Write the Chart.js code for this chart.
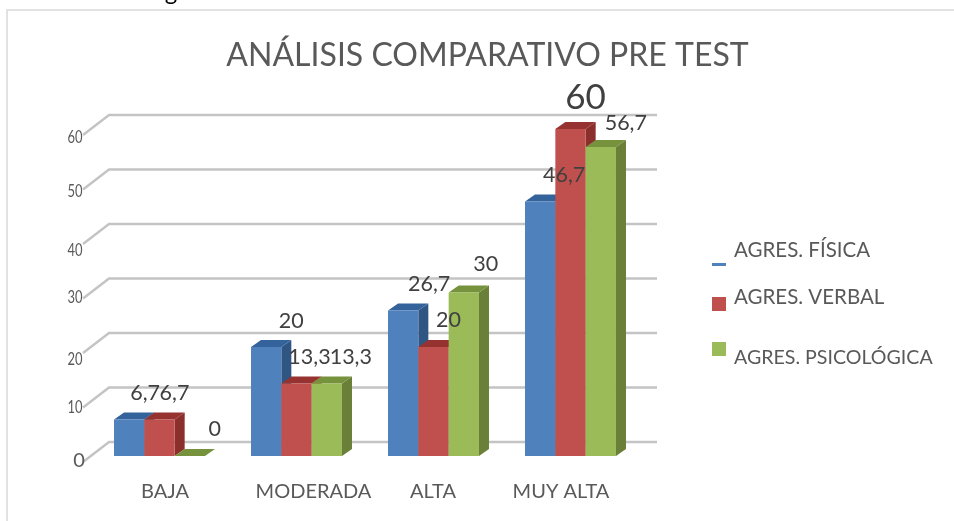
<!DOCTYPE html>
<html>
<head>
<meta charset="utf-8">
<style>
  html, body { margin: 0; padding: 0; background: #fff; }
  #wrap { width: 954px; height: 521px; }
</style>
<script src="https://cdn.jsdelivr.net/npm/chart.js@4"></script>
</head>
<body>
<div id="wrap"><canvas id="chart" width="954" height="521"></canvas></div>
<script>
const chartTitle = 'ANÁLISIS COMPARATIVO PRE TEST';
const categories = ['BAJA', 'MODERADA', 'ALTA', 'MUY ALTA'];
const seriesNames = ['AGRES. FÍSICA', 'AGRES. VERBAL', 'AGRES. PSICOLÓGICA'];
const agresFisica = [6.7, 20, 26.7, 46.7];
const agresVerbal = [6.7, 13.3, 20, 60];
const agresPsicologica = [0, 13.3, 30, 56.7];
const yTicks = [0, 10, 20, 30, 40, 50, 60];

// label nudges, the original chart was hand placed
const yTickNudge = [5, 6, 12, 5, 12, 8, 8];
const xLabelNudge = [5.5, 17, -0.5, -9.5];
const dataLabelNudge = [
  [[16, -26], [25, -26], [26, -26], [24, -26]],
  [[15, -26], [13, -26], [15, -27], [15, -31]],
  [[25, -27], [24, -26], [22, -28], [25, -24]],
];

const fronts = ['#4F81BD', '#C0504D', '#9BBB59'];
const sides = ['#2F5583', '#8A2F2C', '#6A7F38'];
const tops = ['#34639C', '#96322F', '#76923C'];
const DEPTH_X = 10, DEPTH_Y = 7;
const WALL_X = 18, WALL_Y = 14, WALL_RIGHT = 657;
const TEXT = '#595959';

const fmt = v => String(v).replace('.', ',');

function poly(ctx, pts, fill) {
  ctx.fillStyle = fill;
  ctx.beginPath();
  pts.forEach((p, i) => i ? ctx.lineTo(p[0], p[1]) : ctx.moveTo(p[0], p[1]));
  ctx.closePath();
  ctx.fill();
}

function text(ctx, str, x, y, font, color, align) {
  ctx.font = font;
  ctx.fillStyle = color;
  ctx.textAlign = align || 'center';
  ctx.textBaseline = 'middle';
  ctx.fillText(str, x, y);
}

// squeezed digits for the value axis
function narrowText(ctx, str, x, y) {
  ctx.save();
  ctx.translate(x, y);
  ctx.scale(0.72, 1);
  text(ctx, str, 0, 0, '18px Lato', TEXT);
  ctx.restore();
}

const wallPlugin = {
  id: 'wall',
  beforeDatasetsDraw(chart) {
    const { ctx, scales: { y }, chartArea } = chart;
    ctx.save();
    // tail of the text line cropped off above the chart
    text(ctx, 'g', 171, -8, '24px Lato', '#000');
    // frame
    ctx.strokeStyle = '#D9D9D9';
    ctx.lineWidth = 1.5;
    ctx.beginPath();
    ctx.moveTo(7, 521);
    ctx.lineTo(7, 10);
    ctx.lineTo(954, 10);
    ctx.stroke();
    // back wall lines + slanted side wall
    ctx.strokeStyle = '#C4C4C4';
    ctx.lineWidth = 2.5;
    yTicks.forEach(v => {
      const py = y.getPixelForValue(v) - WALL_Y;
      const lx = chartArea.left + WALL_X;
      ctx.beginPath();
      ctx.moveTo(lx - 26, py + 20);
      ctx.lineTo(lx, py);
      ctx.lineTo(WALL_RIGHT, py);
      ctx.stroke();
    });
    // 3d bars, series in order so each front covers the previous side
    const base = y.getPixelForValue(0);
    chart.data.datasets.forEach((ds, d) => {
      chart.getDatasetMeta(d).data.forEach(bar => {
        const l = bar.x - bar.width / 2;
        const r = bar.x + bar.width / 2;
        const t = bar.y;
        poly(ctx, [[r, t], [r + DEPTH_X, t - DEPTH_Y], [r + DEPTH_X, base - DEPTH_Y], [r, base]], sides[d]);
        poly(ctx, [[l, t], [l + DEPTH_X, t - DEPTH_Y], [r + DEPTH_X, t - DEPTH_Y], [r, t]], tops[d]);
        bar.draw(ctx);
      });
    });
    ctx.restore();
  },
  beforeDatasetDraw() {
    return false;
  },
  afterDatasetsDraw(chart) {
    const { ctx, scales: { x, y } } = chart;
    ctx.save();
    // title
    text(ctx, chartTitle, 487.5, 56, '32px Lato', TEXT);
    // y tick labels, sitting below the wall lines
    yTicks.forEach((v, i) => {
      const py = y.getPixelForValue(v) + yTickNudge[i];
      if (v === 0) text(ctx, v, 79, py, '20px Lato', TEXT);
      else narrowText(ctx, v, 75, py);
    });
    // category labels
    categories.forEach((c, i) => {
      text(ctx, c, x.getPixelForValue(i) + xLabelNudge[i], 492, '20px Lato', TEXT);
    });
    // value labels
    chart.data.datasets.forEach((ds, d) => {
      chart.getDatasetMeta(d).data.forEach((bar, i) => {
        const n = dataLabelNudge[d][i];
        const big = ds.data[i] === 60;
        text(ctx, fmt(ds.data[i]), bar.x + n[0], bar.y + n[1], (big ? '35px' : '21.5px') + ' Lato', '#404040');
      });
    });
    // legend
    ctx.fillStyle = fronts[0];
    ctx.fillRect(712, 263, 14, 3);
    ctx.fillStyle = fronts[1];
    ctx.fillRect(712, 297, 14, 14);
    ctx.fillStyle = fronts[2];
    ctx.fillRect(712, 342, 14, 14);
    text(ctx, seriesNames[0], 734, 250, '20.5px Lato', TEXT, 'left');
    text(ctx, seriesNames[1], 734, 297, '20.5px Lato', TEXT, 'left');
    text(ctx, seriesNames[2], 734, 358, '19.6px Lato', TEXT, 'left');
    ctx.restore();
  }
};

new Chart(document.getElementById('chart'), {
  type: 'bar',
  data: {
    labels: categories,
    datasets: [
      { label: seriesNames[0], data: agresFisica, backgroundColor: fronts[0] },
      { label: seriesNames[1], data: agresVerbal, backgroundColor: fronts[1] },
      { label: seriesNames[2], data: agresPsicologica, backgroundColor: fronts[2] },
    ],
  },
  options: {
    responsive: false,
    animation: false,
    layout: { padding: { left: 91, right: 315, top: 129, bottom: 65 } },
    categoryPercentage: 0.664,
    barPercentage: 1,
    scales: {
      x: { display: false, grid: { display: false } },
      y: { display: false, min: 0, max: 60, ticks: { stepSize: 10 }, grid: { display: false } },
    },
    plugins: { legend: { display: false }, title: { display: false }, tooltip: { enabled: false } },
  },
  plugins: [wallPlugin],
});
</script>
</body>
</html>
